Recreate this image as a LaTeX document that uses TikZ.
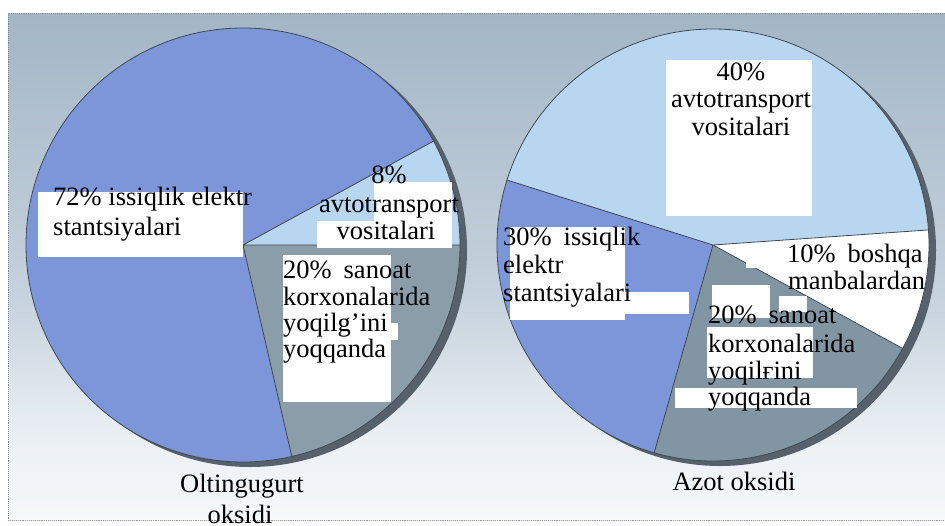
\documentclass[tikz,border=0pt]{standalone}
\usepackage{fontspec}
\setmainfont{Liberation Serif}
\definecolor{bgtop}{HTML}{A3B6C6}
\definecolor{bgmid}{HTML}{C6D2DD}
\definecolor{bglow}{HTML}{EBF0F5}
\definecolor{bgbot}{HTML}{F6F8FA}
\definecolor{sliceblue}{HTML}{7D95D9}
\definecolor{slicelight}{HTML}{B9D6F0}
\definecolor{slicegray}{HTML}{8C9DAA}
\definecolor{slicegrayb}{HTML}{8195A3}
\definecolor{sliceedge}{HTML}{3F4A55}
\definecolor{pieshadow}{HTML}{56616C}
\definecolor{framegray}{HTML}{8A9096}
\pgfdeclareverticalshading{bgshade}{100bp}{color(0bp)=(bgbot); color(25bp)=(bgbot); color(33bp)=(bglow); color(47bp)=(bgmid); color(75bp)=(bgtop); color(100bp)=(bgtop)}
\begin{document}
\begin{tikzpicture}[x=1pt,y=-1pt,
  lbl/.style={font=\fontsize{26.5}{28}\selectfont, inner sep=0pt, text=black},
  edge/.style={draw=sliceedge, line width=0.8pt},
  patch/.style={fill=white}]
\useasboundingbox (0,0) rectangle (945,525);
\fill[white] (0,0) rectangle (945,525);
% background panel with its dotted frame
\shade[shading=bgshade] (8,13) rectangle (947,520);
\draw[framegray, densely dotted, line width=0.9pt] (8,13) rectangle (947,520);

% ---------- sulphur oxide pie ----------
\fill[pieshadow] (250,250) circle[radius=217];
\begin{scope}[shift={(243,245)}, y=1pt]
  \fill[slicelight] (0,0) -- (0:217) arc[start angle=0, end angle=28.6, radius=217] -- cycle;
  \fill[sliceblue] (0,0) -- (28.6:217) arc[start angle=28.6, end angle=283, radius=217] -- cycle;
  \fill[slicegray] (0,0) -- (283:217) arc[start angle=283, end angle=360, radius=217] -- cycle;
  \draw[edge] (28.6:217) -- (0,0) -- (0:217) (0,0) -- (283:217);
  \draw[edge] (0,0) circle[radius=217];
\end{scope}

% ---------- nitrogen oxide pie ----------
\fill[pieshadow] (720,250) circle[radius=216];
\begin{scope}[shift={(713,245)}, y=1pt]
  \fill[slicelight] (0,0) -- (4:216) arc[start angle=4, end angle=162.5, radius=216] -- cycle;
  \fill[sliceblue] (0,0) -- (162.5:216) arc[start angle=162.5, end angle=254.2, radius=216] -- cycle;
  \fill[slicegrayb] (0,0) -- (254.2:216) arc[start angle=254.2, end angle=331.4, radius=216] -- cycle;
  \fill[white] (0,0) -- (331.4:216) arc[start angle=331.4, end angle=364, radius=216] -- cycle;
  \draw[edge] (4:216) -- (0,0) -- (162.5:216) (0,0) -- (254.2:216) (0,0) -- (331.4:216);
  \draw[edge] (0,0) circle[radius=216];
\end{scope}

% white label patches
\fill[patch] (38,192) rectangle (243,257);
\fill[patch] (374,182) rectangle (452,221);
\fill[patch] (317,221) rectangle (452,248);
\fill[patch] (283,255) rectangle (391,402);
\fill[patch] (391,323) rectangle (398,340);
\fill[patch] (666,60) rectangle (812,216);
\fill[patch] (510,227) rectangle (625,320);
\fill[patch] (625,292) rectangle (689,314);
\fill[patch] (746,257) rectangle (790,268);
\fill[patch] (712,285) rectangle (770,318);
\fill[patch] (779,296) rectangle (807,312);
\fill[patch] (707,327) rectangle (813,378);
\fill[patch] (675,388) rectangle (857,408);

% labels of the sulphur oxide pie
\node[lbl, anchor=base west] (la1) at (53,205) {72\% issiqlik elektr};
\node[lbl, anchor=base west] (la2) at (53,235) {stantsiyalari};
\node[lbl, anchor=base] (lb1) at (389,183) {8\%};
\node[lbl, anchor=base] (lb2) at (389,212) {avtotransport};
\node[lbl, anchor=base] (lb3) at (386,239) {vositalari};
\node[lbl, anchor=base west] (lc1) at (283,278) {20\%\hspace{0.45em}sanoat};
\node[lbl, anchor=base west] (lc2) at (283,305) {korxonalarida};
\node[lbl, anchor=base west] (lc3) at (283,331) {yoqilg’ini};
\node[lbl, anchor=base west] (lc4) at (283,357) {yoqqanda};
\node[lbl, anchor=base] (ld1) at (242,492) {Oltingugurt};
\node[lbl, anchor=base] (ld2) at (240,523) {oksidi};

% labels of the nitrogen oxide pie
\node[lbl, anchor=base] (ra1) at (741,80) {40\%};
\node[lbl, anchor=base] (ra2) at (741,107) {avtotransport};
\node[lbl, anchor=base] (ra3) at (741,135) {vositalari};
\node[lbl, anchor=base west] (rb1) at (503,245) {30\%\hspace{0.45em}issiqlik};
\node[lbl, anchor=base west] (rb2) at (503,273) {elektr};
\node[lbl, anchor=base west] (rb3) at (503,301) {stantsiyalari};
\node[lbl, anchor=base west] (rc1) at (787,262) {10\%\hspace{0.45em}boshqa};
\node[lbl, anchor=base west] (rc2) at (788,289) {manbalardan};
\node[lbl, anchor=base west] (rd1) at (708,323) {20\%\hspace{0.45em}sanoat};
\node[lbl, anchor=base west] (rd2) at (708,352) {korxonalarida};
\node[lbl, anchor=base west] (rd3) at (708,379) {yoqilғini};
\node[lbl, anchor=base west] (rd4) at (708,405) {yoqqanda};
\node[lbl, anchor=base] (re1) at (734,490) {Azot oksidi};
\end{tikzpicture}
\end{document}
